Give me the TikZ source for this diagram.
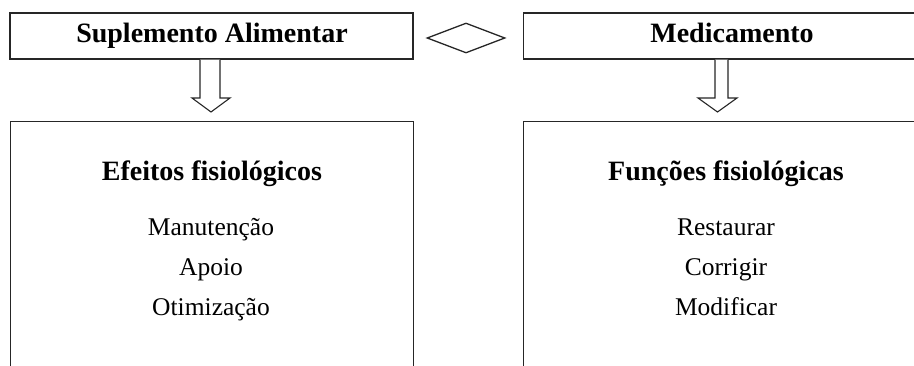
\documentclass[tikz,border=0pt]{standalone}
\usepackage{fontspec}
\setmainfont{Liberation Serif}
\usetikzlibrary{shapes.geometric}
\begin{document}
\begin{tikzpicture}[x=1pt,y=1pt,
  boxline/.style={draw=black!85, line width=1.3pt},
  headbox/.style={boxline, rectangle, minimum height=46pt, inner sep=0pt},
  bodybox/.style={boxline, rectangle, anchor=north west, minimum height=300pt, inner sep=0pt},
  titletext/.style={anchor=base, inner sep=0pt, font=\fontsize{28}{32}\selectfont\bfseries},
  itemtext/.style={anchor=base, inner sep=0pt, font=\fontsize{25.5}{30}\selectfont},
  blockarrow/.style={draw=black!85, line width=1.1pt, fill=white, line join=miter}
]
\useasboundingbox (0,0) rectangle (914,365);
\clip (0,0) rectangle (914,365);
% top boxes
\node[headbox, minimum width=403pt] (sa) at (211.5,329) {};
\node[headbox, minimum width=440pt, anchor=west] (med) at (523,329) {};
\node[titletext] (satxt) at (212,322) {Suplemento Alimentar};
\node[titletext] (medtxt) at (732,322) {Medicamento};
% diamond
\node[diamond, boxline, minimum width=78pt, minimum height=30pt, inner sep=0pt] (dia) at (466,327) {};
% bottom boxes
\node[bodybox, minimum width=403pt] (ef) at (10,244) {};
\node[bodybox, minimum width=440pt] (fu) at (523,244) {};
% block arrows
\draw[blockarrow] (sa.south -| 200,0) -- (200,267) -- (192,267) -- (211,253) -- (230,267) -- (220,267) -- (sa.south -| 220,0);
\draw[blockarrow] (med.south -| 715,0) -- (715,267) -- (698,267) -- (717.5,253) -- (737,267) -- (728,267) -- (med.south -| 728,0);
% left texts
\node[titletext] (eft) at (212,185) {Efeitos fisiológicos};
\node[itemtext] (ef1) at (211,130) {Manutenção};
\node[itemtext] (ef2) at (211,90) {Apoio};
\node[itemtext] (ef3) at (211,50) {Otimização};
% right texts
\node[titletext] (fut) at (726,185) {Funções fisiológicas};
\node[itemtext] (fu1) at (726,130) {Restaurar};
\node[itemtext] (fu2) at (726,90) {Corrigir};
\node[itemtext] (fu3) at (726,50) {Modificar};
\end{tikzpicture}
\end{document}
